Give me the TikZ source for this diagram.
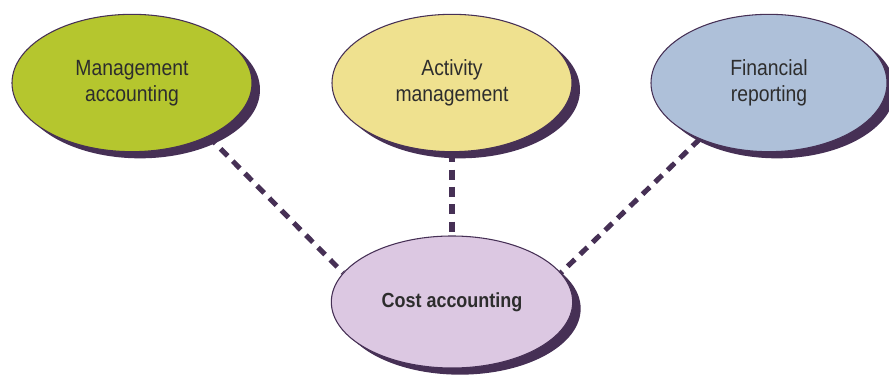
\documentclass[tikz,border=0pt]{standalone}
\usepackage{fontspec}
\setmainfont[FakeStretch=0.88]{Liberation Sans}
\usetikzlibrary{shapes.geometric,shadows,backgrounds}
\definecolor{dk}{RGB}{70,48,85}
\definecolor{cgreen}{RGB}{181,198,46}
\definecolor{cyellow}{RGB}{239,225,143}
\definecolor{cblue}{RGB}{174,192,217}
\definecolor{clav}{RGB}{220,200,226}
\definecolor{txt}{RGB}{45,45,45}
\tikzset{
  bubble/.style={ellipse, draw=dk, line width=0.8pt, minimum width=180pt, minimum height=103pt,
    inner sep=0pt, align=center, text=txt, font=\fontsize{16.5}{19.5}\selectfont,
    drop shadow={shadow xshift=6pt, shadow yshift=-5pt, fill=dk, opacity=1}},
  link/.style={draw=dk, line width=3.8pt, dash pattern=on 7.5pt off 5.5pt}
}
\begin{document}
\begin{tikzpicture}[x=0.75pt,y=-0.75pt]
\useasboundingbox (0,0) rectangle (889,377);
\node[bubble, fill=cgreen] (m) at (132,83) {Management\\accounting};
\node[bubble, fill=cyellow] (a) at (452,83) {Activity\\management};
\node[bubble, fill=cblue, minimum width=177pt] (f) at (769,83) {Financial\\reporting};
\node[bubble, fill=clav, minimum width=181pt, minimum height=99pt, font=\fontsize{15.3}{19.5}\selectfont\bfseries] (c) at (452,302) {Cost accounting};
\begin{scope}[on background layer]
\draw[link] (m.-35) -- (c.165);
\draw[link] (a.south) -- (c.north);
\draw[link] (f.-141) -- (c.15);
\end{scope}
\end{tikzpicture}
\end{document}
